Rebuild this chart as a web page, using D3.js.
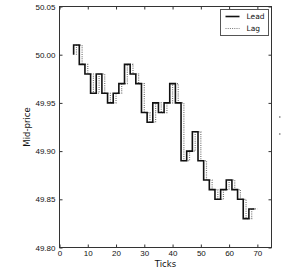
<!DOCTYPE html>
<html>
<head>
<meta charset="utf-8">
<script src="https://cdn.jsdelivr.net/npm/d3@7"></script>
<style>
  body { margin: 0; background: #fff; }
  svg { display: block; font-family: "DejaVu Sans", sans-serif; }
</style>
</head>
<body>
<script>
// tick at which each mid-price level ends (steps-pre)
var ticks = [5, 7, 9, 11, 13, 15, 17, 19, 21, 23, 25, 27, 29, 31, 33, 35, 37,
             39, 41, 43, 45, 47, 49, 51, 53, 55, 57, 59, 61, 63, 65, 67, 69];
var leadPrices = [50.00, 50.01, 49.99, 49.98, 49.96, 49.98, 49.96, 49.95, 49.96, 49.97, 49.99,
                  49.98, 49.97, 49.94, 49.93, 49.95, 49.94, 49.95, 49.97, 49.95, 49.89,
                  49.90, 49.92, 49.89, 49.87, 49.86, 49.85, 49.86, 49.87, 49.86, 49.85,
                  49.83, 49.84];
var lagShift = 1;
var xTicks = [0, 10, 20, 30, 40, 50, 60, 70];
var yTicks = [49.80, 49.85, 49.90, 49.95, 50.00, 50.05];
var seriesNames = ["Lead", "Lag"];

var W = 281, H = 270;
var margin = {top: 6.5, right: 9.5, bottom: 22.5, left: 59.5};
var width = W - margin.left - margin.right;
var height = H - margin.top - margin.bottom;

var svg = d3.select("body").append("svg")
    .attr("width", W)
    .attr("height", H);

var g = svg.append("g")
    .attr("transform", "translate(" + margin.left + "," + margin.top + ")");

var x = d3.scaleLinear().domain([0, 75]).range([0, width]);
var y = d3.scaleLinear().domain([49.80, 50.05]).range([height, 0]);

var tickLen = 3;
var axisColor = "#333";

var xAxis = d3.axisBottom(x).tickValues(xTicks).tickSizeInner(-tickLen).tickSizeOuter(0).tickPadding(3);
var yAxis = d3.axisLeft(y).tickValues(yTicks).tickSizeInner(-tickLen).tickSizeOuter(0).tickPadding(4)
    .tickFormat(d3.format(".2f"));
var xTop = d3.axisTop(x).tickValues(xTicks).tickSizeInner(-tickLen).tickSizeOuter(0).tickFormat("");
var yRight = d3.axisRight(y).tickValues(yTicks).tickSizeInner(-tickLen).tickSizeOuter(0).tickFormat("");

function styleAxis(sel) {
    sel.select(".domain").remove();
    sel.selectAll("line").attr("stroke", axisColor);
    sel.selectAll("text").attr("fill", "#111").attr("font-size", 8);
}

g.append("g").attr("transform", "translate(0," + height + ")").call(xAxis).call(styleAxis);
g.append("g").call(yAxis).call(styleAxis);
g.append("g").call(xTop).call(styleAxis);
g.append("g").attr("transform", "translate(" + width + ",0)").call(yRight).call(styleAxis);

// data lines
var lead = ticks.map((t, i) => ({t: t, v: leadPrices[i]}));
var lag = ticks.map((t, i) => ({t: t + lagShift, v: leadPrices[i]}));

var line = d3.line()
    .x(d => x(d.t))
    .y(d => y(d.v))
    .curve(d3.curveStepBefore);

g.append("path").datum(lag)
    .attr("fill", "none")
    .attr("stroke", "#777")
    .attr("stroke-width", 1.2)
    .attr("stroke-dasharray", "1,1.2")
    .attr("d", line);

g.append("path").datum(lead)
    .attr("fill", "none")
    .attr("stroke", "#111")
    .attr("stroke-width", 1.6)
    .attr("d", line);

// frame
g.append("rect")
    .attr("width", width).attr("height", height)
    .attr("fill", "none").attr("stroke", axisColor).attr("stroke-width", 1);

// axis labels
svg.append("text")
    .attr("x", margin.left + width / 2).attr("y", 266.5)
    .attr("text-anchor", "middle").attr("font-size", 8.5).attr("fill", "#111")
    .text("Ticks");
svg.append("text")
    .attr("transform", "translate(30," + (margin.top + height / 2) + ") rotate(-90)")
    .attr("text-anchor", "middle").attr("font-size", 8.5).attr("fill", "#111")
    .text("Mid-price");

// legend
var legend = svg.append("g").attr("transform", "translate(220.5,9.5)");
legend.append("rect").attr("width", 48).attr("height", 26)
    .attr("fill", "#fff").attr("stroke", "#555").attr("stroke-width", 1);
seriesNames.forEach((name, i) => {
    var yy = 7 + i * 12;
    legend.append("line").attr("x1", 5).attr("x2", 19).attr("y1", yy).attr("y2", yy)
        .attr("stroke", i === 0 ? "#111" : "#777")
        .attr("stroke-width", i === 0 ? 1.6 : 1.2)
        .attr("stroke-dasharray", i === 0 ? null : "1,1.2");
    legend.append("text").attr("x", 26).attr("y", yy).attr("dy", "0.35em")
        .attr("font-size", 7.5).attr("fill", "#111").text(name);
});

// stray marks at the right edge
svg.append("rect").attr("x", 279).attr("y", 116.5).attr("width", 1.5).attr("height", 1).attr("fill", "#444");
svg.append("rect").attr("x", 279).attr("y", 133.5).attr("width", 1.5).attr("height", 1).attr("fill", "#444");
</script>
</body>
</html>
